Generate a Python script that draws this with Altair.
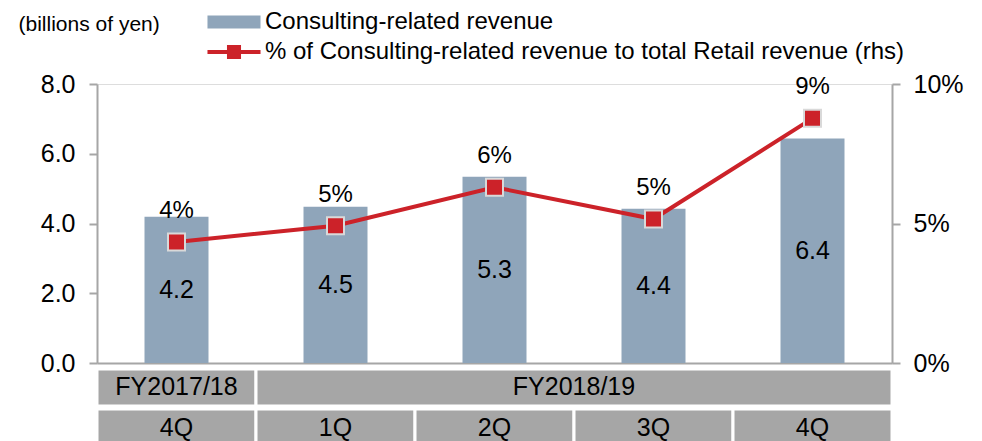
import altair as alt
import pandas as pd

# ---- data ----
quarters = ["4Q", "1Q", "2Q", "3Q", "4Q"]
fiscal_years = ["FY2017/18", "FY2018/19", "FY2018/19", "FY2018/19", "FY2018/19"]
revenue = [4.19, 4.48, 5.34, 4.42, 6.44]          # billions of yen
ratio_pct = [4.34, 4.92, 6.30, 5.16, 8.77]        # % of total Retail revenue

fy_labels = ["FY2017/18", "FY2018/19"]
fy_quarter_counts = [1, 4]

bar_name = "Consulting-related revenue"
line_name = "% of Consulting-related revenue to total Retail revenue (rhs)"

BAR_COLOR = "#8FA5BA"
LINE_COLOR = "#CC2229"
GRID_GREY = "#A6A6A6"
FONT = "Liberation Sans"

main = pd.DataFrame({
    "pos": list(range(len(quarters))),
    "quarter": quarters,
    "fy": fiscal_years,
    "revenue": revenue,
    "pct": ratio_pct,
    "bar_series": [bar_name] * len(quarters),
    "line_series": [line_name] * len(quarters),
})

rows = []
start = 0
for lab, n in zip(fy_labels, fy_quarter_counts):
    rows.append({"row": "FY", "start": start, "end": start + n, "label": lab})
    start += n
for i, q in enumerate(quarters):
    rows.append({"row": "Q", "start": i, "end": i + 1, "label": q})
table = pd.DataFrame(rows)

W, H = 795, 279

x_scale = alt.Scale(domain=[0, len(quarters)], nice=False, zero=False, padding=0)
x_axis = alt.Axis(labels=False, ticks=False, grid=False, title=None,
                  domain=True, domainColor=GRID_GREY, domainWidth=2)

left_axis = alt.Axis(values=[0, 2, 4, 6, 8], format=".1f", grid=False,
                     orient="left", tickSize=8, tickColor=GRID_GREY, tickWidth=2,
                     domainColor=GRID_GREY, domainWidth=2,
                     labelFontSize=25, labelFont=FONT, labelColor="#000000",
                     labelPadding=14,
                     title="(billions of yen)", titleAngle=0, titleAlign="left",
                     titleBaseline="middle", titleX=-79, titleY=-60,
                     titleFontSize=21, titleFont=FONT, titleFontWeight="normal",
                     titleColor="#000000")
right_axis = alt.Axis(values=[0, 5, 10], labelExpr="datum.value + '%'", grid=False,
                      orient="right", tickSize=8, tickColor=GRID_GREY, tickWidth=2,
                      domainColor=GRID_GREY, domainWidth=2,
                      labelFontSize=25, labelFont=FONT, labelColor="#000000",
                      labelPadding=13, title=None)

left_scale = alt.Scale(domain=[0, 8], nice=False)
right_scale = alt.Scale(domain=[0, 10], nice=False)

base = alt.Chart(main).transform_calculate(
    xc="datum.pos + 0.5",
    half="datum.revenue / 2",
    pct_label="format(datum.pct, '.0f') + '%'",
)

bar_path = "M-4.08,-1H4.08V1H-4.08Z"
line_path = ("M-4.08,-0.31H-1.08V-1.08H1.08V-0.31H4.08V0.31H1.08V1.08H-1.08V0.31H-4.08Z")

bars = base.mark_bar(size=64).encode(
    x=alt.X("xc:Q", scale=x_scale, axis=x_axis),
    y=alt.Y("revenue:Q", scale=left_scale, axis=left_axis),
    color=alt.Color("bar_series:N",
                    scale=alt.Scale(domain=[bar_name], range=[BAR_COLOR]),
                    legend=alt.Legend(title=None, orient="none", legendX=125, legendY=-74,
                                      symbolType=bar_path, symbolSize=169,
                                      symbolStrokeWidth=0, labelOffset=19,
                                      labelFontSize=24, labelFont=FONT,
                                      labelColor="#000000", labelLimit=900)),
)
bar_text = base.mark_text(fontSize=25, font=FONT, baseline="middle", color="#000000").encode(
    x=alt.X("xc:Q", scale=x_scale, axis=x_axis),
    y=alt.Y("half:Q", scale=left_scale, axis=left_axis),
    text=alt.Text("revenue:Q", format=".1f"),
)
bar_layer = alt.layer(bars, bar_text)

line = base.mark_line(color=LINE_COLOR, strokeWidth=4).encode(
    x=alt.X("xc:Q", scale=x_scale, axis=x_axis),
    y=alt.Y("pct:Q", scale=right_scale, axis=right_axis),
)
points = base.mark_square(size=289, stroke="#D9D9D9", strokeWidth=2, opacity=1).encode(
    x=alt.X("xc:Q", scale=x_scale, axis=x_axis),
    y=alt.Y("pct:Q", scale=right_scale, axis=right_axis),
    fill=alt.Fill("line_series:N",
                  scale=alt.Scale(domain=[line_name], range=[LINE_COLOR]),
                  legend=alt.Legend(title=None, orient="none", legendX=125, legendY=-44,
                                    symbolType=line_path, symbolSize=169,
                                    symbolStrokeWidth=0, labelOffset=19,
                                    labelFontSize=24, labelFont=FONT,
                                    labelColor="#000000", labelLimit=900)),
)
pct_text = base.mark_text(fontSize=24, font=FONT, baseline="alphabetic", dy=-24,
                          color="#000000").encode(
    x=alt.X("xc:Q", scale=x_scale, axis=x_axis),
    y=alt.Y("pct:Q", scale=right_scale, axis=right_axis),
    text="pct_label:N",
)
line_layer = alt.layer(line, points, pct_text)

tbase = alt.Chart(table).transform_calculate(mid="(datum.start + datum.end) / 2")
row_scale = alt.Scale(domain=["FY", "Q"], range=[285, 362], paddingInner=0.08, paddingOuter=0)
cells = tbase.mark_rect(fill=GRID_GREY, stroke="white", strokeWidth=3).encode(
    x=alt.X("start:Q", scale=x_scale, axis=x_axis),
    x2="end:Q",
    y=alt.Y("row:N", scale=row_scale, axis=None),
)
cell_text = tbase.mark_text(fontSize=25, font=FONT, color="#000000", baseline="middle").encode(
    x=alt.X("mid:Q", scale=x_scale, axis=x_axis),
    y=alt.Y("row:N", scale=row_scale, axis=None),
    text="label:N",
)
table_layer = alt.layer(cells, cell_text)

chart = alt.layer(table_layer, bar_layer, line_layer).resolve_scale(
    y="independent"
).properties(
    width=W, height=H,
    autosize=alt.AutoSizeParams(type="none"),
    padding={"left": 89, "top": 76, "right": 82, "bottom": 78},
).configure_view(stroke=None).configure(background="white")

chart.save("out.html", embed_options={"renderer": "svg", "actions": False})
